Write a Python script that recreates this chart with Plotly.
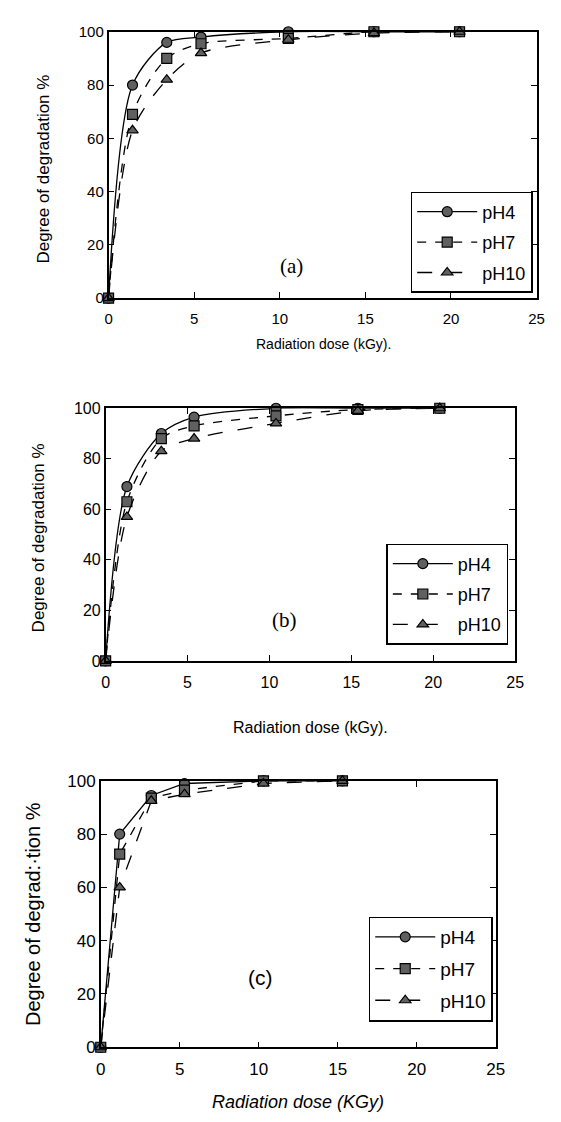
import plotly.graph_objects as go

W, H = 561, 1122

# ---------------- data ----------------
series_names = ["pH4", "pH7", "pH10"]
x_ticks = [0, 5, 10, 15, 20, 25]
y_ticks = [0, 20, 40, 60, 80, 100]

dose_a = [0, 1.4, 3.4, 5.4, 10.5, 15.5, 20.5]
ph4_a = [0, 80, 96, 98, 100, 100, 100]
ph7_a = [0, 69, 90, 95.5, 97.5, 100, 100]
ph10_a = [0, 63, 82, 92, 97, 99.5, 100]

dose_b = [0, 1.3, 3.4, 5.4, 10.4, 15.4, 20.4]
ph4_b = [0, 69, 90, 96.5, 100, 100, 100]
ph7_b = [0, 63, 88, 93, 97, 99.5, 100]
ph10_b = [0, 57, 83, 88, 94, 99, 100]

dose_c = [0, 1.2, 3.2, 5.3, 10.3, 15.3]
ph4_c = [0, 80, 94.5, 99, 100, 100]
ph7_c = [0, 72.5, 93.5, 96.5, 100, 100]
ph10_c = [0, 60, 92.5, 95, 99, 100]

panel_labels = ["(a)", "(b)", "(c)"]
x_titles = ["Radiation dose (kGy).", "Radiation dose (kGy).", "Radiation dose (KGy)"]
y_titles = ["Degree of degradation %", "Degree of degradation %", "Degree of degrad:\u00b7tion %"]

# ---------------- layout geometry (pixels) ----------------
# (left, right, top, bottom) of each plot area
boxes = [(98, 537, 15, 286), (95, 515, 398, 655), (90, 495, 777, 1048)]
legend_boxes = [(533, 178), (508, 536), (492, 915)]  # right, top
label_pos = [(10.7, 12), (10.9, 16), (10.1, 26)]
label_fonts = ["Liberation Serif", "Liberation Serif", "Liberation Sans"]
xtitle_pos = [(318, 333, 14), (305, 723, 16), (292, 1104, 18)]
ytitle_pos = [(31, 155, 17), (26, 530, 17), (20, 913, 20)]
tick_font = [15, 16, 17]
legend_font = [18, 18, 19]
shapes_line = ["spline", "spline", "linear"]

dash_styles = ["solid", "dash", "longdash"]
symbols = ["circle", "square", "triangle-up"]

panels = [
    (dose_a, [ph4_a, ph7_a, ph10_a]),
    (dose_b, [ph4_b, ph7_b, ph10_b]),
    (dose_c, [ph4_c, ph7_c, ph10_c]),
]

fig = go.Figure()
annotations = []
layout_axes = {}

for i, (dose, ys) in enumerate(panels):
    n = "" if i == 0 else str(i + 1)
    xa, ya = "x" + n, "y" + n
    leg = "legend" + n
    for j, (name, yv) in enumerate(zip(series_names, ys)):
        fig.add_trace(go.Scatter(
            x=dose, y=yv, name=name, mode="lines+markers",
            xaxis=xa, yaxis=ya, legend=leg,
            legendgroup=f"{i}-{j}",
            line=dict(color="black", width=1.3, dash=dash_styles[j],
                      shape=shapes_line[i], smoothing=0.8),
            marker=dict(symbol=symbols[j], size=10, color="#606060",
                        line=dict(color="black", width=1.2)),
            cliponaxis=False,
        ))
    L, R, T, B = boxes[i]
    common = dict(showline=True, linecolor="black", linewidth=1.5, mirror="ticks",
                  ticks="inside", ticklen=6, tickcolor="black", tickwidth=1.2,
                  showgrid=False, zeroline=False,
                  tickfont=dict(family="Liberation Sans", size=tick_font[i], color="black"))
    layout_axes["xaxis" + n] = dict(common, domain=[L / W, R / W], range=[0, 25],
                                    tickvals=x_ticks, anchor=ya, ticklabelstandoff=6)
    layout_axes["yaxis" + n] = dict(common, domain=[1 - B / H, 1 - T / H], range=[0, 100],
                                    tickvals=y_ticks, anchor=xa)
    lr, lt = legend_boxes[i]
    layout_axes[leg] = dict(x=lr / W, y=1 - lt / H, xanchor="right", yanchor="top",
                            xref="paper", yref="paper",
                            bordercolor="black", borderwidth=1.5, bgcolor="white",
                            font=dict(family="Liberation Sans", size=legend_font[i], color="black"),
                            itemwidth=60, tracegroupgap=4, traceorder="grouped")
    lx, ly = label_pos[i]
    annotations.append(dict(x=lx, y=ly, xref=xa, yref=ya, text=panel_labels[i],
                            showarrow=False, xanchor="center", yanchor="middle",
                            font=dict(family=label_fonts[i], size=21, color="black")))
    tx, ty, tf = xtitle_pos[i]
    annotations.append(dict(x=tx / W, y=1 - ty / H, xref="paper", yref="paper",
                            text=x_titles[i], showarrow=False,
                            xanchor="center", yanchor="middle",
                            font=dict(family="Liberation Sans", size=tf, color="black",
                                      style="italic" if i == 2 else "normal")))
    yx, yy, yf = ytitle_pos[i]
    annotations.append(dict(x=yx / W, y=1 - yy / H, xref="paper", yref="paper",
                            text=y_titles[i], showarrow=False, textangle=-90,
                            xanchor="center", yanchor="middle",
                            font=dict(family="Liberation Sans", size=yf, color="black")))

fig.update_layout(
    width=W, height=H,
    margin=dict(l=0, r=0, t=0, b=0),
    paper_bgcolor="white", plot_bgcolor="white",
    showlegend=True,
    annotations=annotations,
    **layout_axes,
)

fig.write_html("out.html")
